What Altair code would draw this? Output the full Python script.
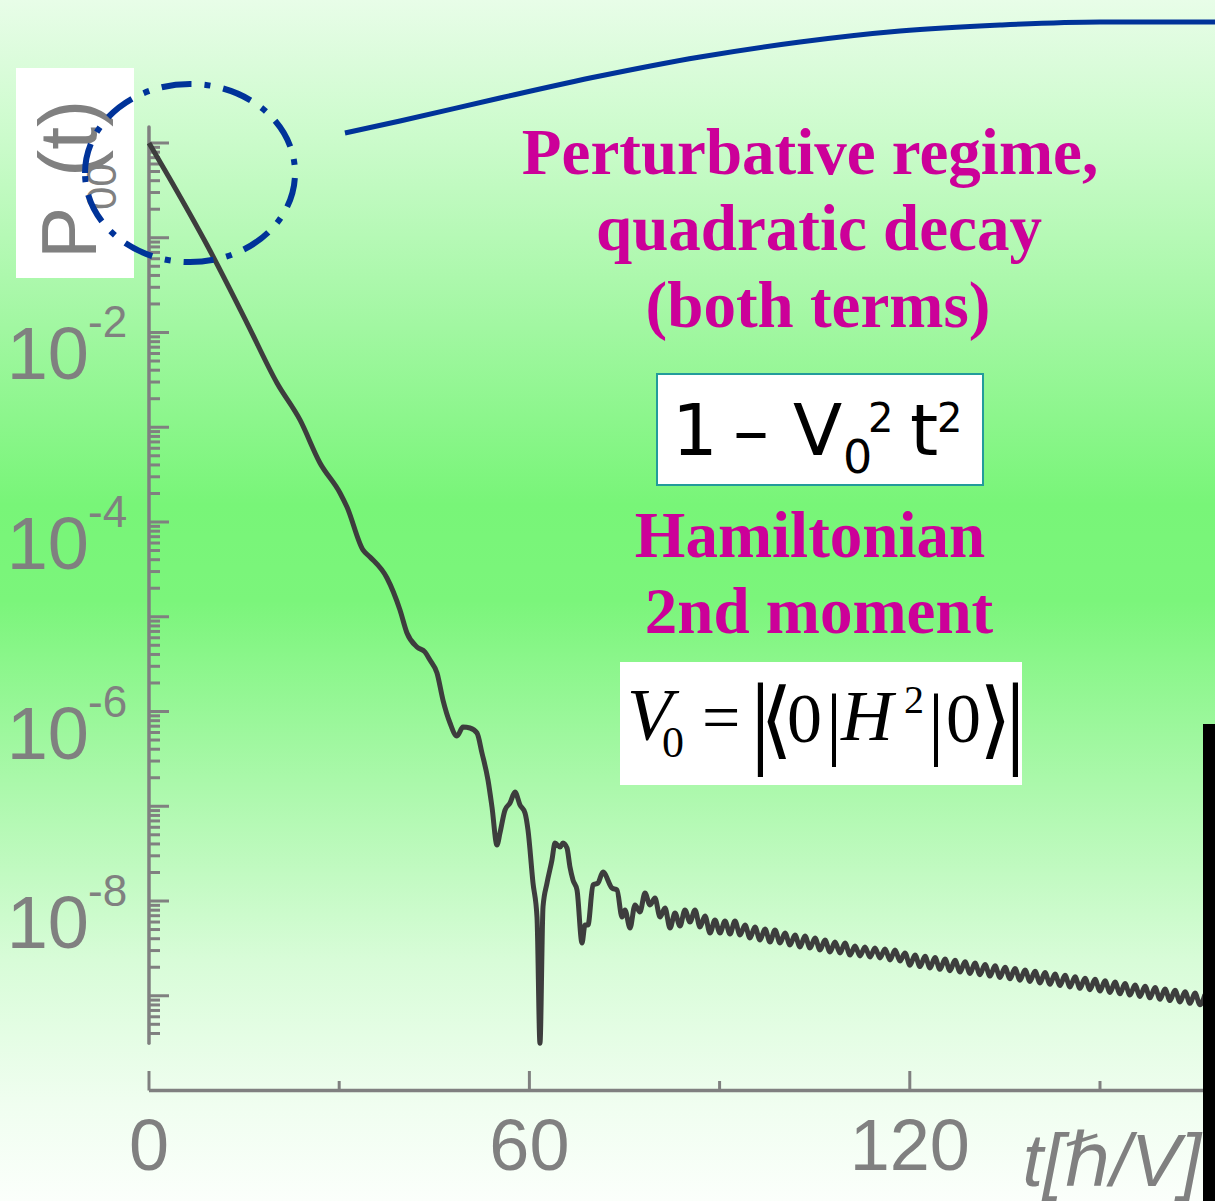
import altair as alt
import pandas as pd

W, H = 1215, 1201

# ---- survival probability P00(t): time in units of hbar/V, log10 of P00 ----
t_vals = [
    0.00, 3.31, 9.15, 15.46, 20.19, 23.82, 26.97, 30.13, 31.23, 33.75,
    34.86, 37.54, 39.59, 40.69, 42.27, 43.53, 44.32, 45.43, 46.37, 47.48,
    48.58, 49.53, 50.63, 51.74, 52.52, 53.47, 54.10, 54.89, 55.36, 56.15,
    56.94, 57.73, 58.52, 59.31, 59.78, 60.57, 61.20, 61.67, 62.15, 62.78,
    63.56, 64.04, 64.83, 65.30, 65.93, 66.40, 66.88, 67.51, 68.30, 68.77,
    69.24, 70.03, 70.82, 71.61, 73.03, 73.82, 74.61, 75.08, 75.87, 76.66,
    77.44, 78.23, 79.02, 79.81, 80.60, 81.39, 82.18, 82.97, 83.75, 84.54,
    85.33, 86.12, 86.91, 87.70, 88.49, 89.27, 90.06, 90.85, 91.64, 92.43,
    93.22, 94.01, 94.79, 95.58, 96.37, 97.16, 97.95, 98.74, 99.53, 100.32,
    101.10, 101.89, 102.68, 103.47, 104.26, 105.05, 105.84, 106.62, 107.41, 108.20,
    108.99, 109.78, 110.57, 111.36, 112.15, 112.93, 113.72, 114.51, 115.30, 116.09,
    116.88, 117.67, 118.45, 119.24, 120.03, 120.82, 121.61, 122.40, 123.19, 123.97,
    124.76, 125.55, 126.34, 127.13, 127.92, 128.71, 129.50, 130.28, 131.07, 131.86,
    132.65, 133.44, 134.23, 135.02, 135.80, 136.59, 137.38, 138.17, 138.96, 139.75,
    140.54, 141.32, 142.11, 142.90, 143.69, 144.48, 145.27, 146.06, 146.85, 147.63,
    148.42, 149.21, 150.00, 150.79, 151.58, 152.37, 153.15, 153.94, 154.73, 155.52,
    156.31, 157.10, 157.89, 158.68, 159.46, 160.25, 161.04, 161.83, 162.62, 163.41,
    164.20, 164.98, 165.77, 166.56,
]
log_p = [
    0.000, -0.380, -1.077, -1.900, -2.533, -2.923, -3.377, -3.694, -3.842, -4.295,
    -4.369, -4.591, -4.929, -5.171, -5.319, -5.372, -5.457, -5.594, -5.879, -6.121,
    -6.259, -6.164, -6.174, -6.227, -6.438, -6.723, -7.008, -7.409, -7.282, -7.040,
    -6.966, -6.850, -6.987, -7.071, -7.251, -7.810, -8.169, -9.500, -8.061, -7.810,
    -7.567, -7.388, -7.430, -7.388, -7.441, -7.641, -7.779, -7.884, -8.443, -8.253,
    -8.253, -7.831, -7.810, -7.694, -7.863, -7.884, -8.169, -8.095, -8.285, -8.042,
    -8.116, -7.916, -8.042, -7.968, -8.169, -8.074, -8.285, -8.127, -8.264, -8.095,
    -8.222, -8.095, -8.274, -8.158, -8.338, -8.201, -8.338, -8.211, -8.348, -8.211,
    -8.359, -8.253, -8.390, -8.274, -8.412, -8.295, -8.433, -8.306, -8.443, -8.338,
    -8.464, -8.359, -8.485, -8.369, -8.496, -8.390, -8.517, -8.412, -8.538, -8.433,
    -8.549, -8.443, -8.570, -8.475, -8.580, -8.485, -8.591, -8.496, -8.601, -8.506,
    -8.622, -8.517, -8.633, -8.549, -8.678, -8.569, -8.692, -8.583, -8.706, -8.597,
    -8.721, -8.612, -8.735, -8.626, -8.749, -8.641, -8.764, -8.655, -8.778, -8.669,
    -8.792, -8.684, -8.807, -8.698, -8.821, -8.712, -8.836, -8.727, -8.849, -8.741,
    -8.864, -8.755, -8.879, -8.770, -8.892, -8.784, -8.907, -8.799, -8.922, -8.814,
    -8.936, -8.827, -8.950, -8.842, -8.965, -8.856, -8.979, -8.871, -8.993, -8.886,
    -9.007, -8.899, -9.022, -8.914, -9.037, -8.929, -9.051, -8.942, -9.066, -8.957,
    -9.080, -8.971, -9.095, -8.986,
]

# ---- blue connector from the zoom ring towards the upper right ----
conn_t = [30.91, 39.59, 55.36, 71.14, 86.91, 102.68, 118.45, 134.23, 150.00, 168.14]
conn_lg = [0.106, 0.232, 0.475, 0.707, 0.908, 1.066, 1.182, 1.245, 1.277, 1.277]

# zoom ring around the short-time region
ring_t, ring_lg = 6.47, -0.317

# ---- axes ----
X_MAJOR = [0, 60, 120]
X_MINOR = [30, 90, 150]
X_LABELS = ["0", "60", "120"]
Y_DECADES = [0, -1, -2, -3, -4, -5, -6, -7, -8, -9]
Y_MANTISSAS = [2, 3, 4, 5, 6, 7, 8, 9]
Y_LABEL_EXP = [-2, -4, -6, -8]
Y_AXIS_TOP_LG, Y_AXIS_BOTTOM_LG = 0.169, -9.5
X_AXIS_LG = -10.0
X_AXIS_END = 168.14

GREY = "#808080"
MAGENTA = "#cc0099"
BLUE = "#003399"
CURVE = "#3d3d3d"

x_scale = alt.Scale(domain=[-23.50, 168.14], nice=False, zero=False)
y_scale = alt.Scale(type="log", domain=[10 ** -11.166, 10 ** 1.509], nice=False)


def X(f):
    return alt.X(f, type="quantitative", scale=x_scale, axis=None)


def Y(f):
    return alt.Y(f, type="quantitative", scale=y_scale, axis=None)


ONE = pd.DataFrame({"k": [0]})


def txt(s, x, y, size, color, font, weight="normal", style="normal",
        align="left", angle=0):
    return alt.Chart(ONE).mark_text(
        align=align, baseline="alphabetic", font=font, fontSize=size,
        fontWeight=weight, fontStyle=style, color=color, angle=angle,
    ).encode(x=alt.value(x), y=alt.value(y), text=alt.value(s))


def box(x0, x1, y0, y1, fill, stroke=None, sw=0):
    kw = dict(fill=fill)
    if stroke:
        kw.update(stroke=stroke, strokeWidth=sw)
    return alt.Chart(ONE).mark_rect(**kw).encode(
        x=alt.value(x0), x2=alt.value(x1), y=alt.value(y0), y2=alt.value(y1))


layers = []

# background wash
grad = alt.LinearGradient(
    gradient="linear", x1=0, x2=0, y1=0, y2=1,
    stops=[
        alt.GradientStop(offset=0.0, color="#e8fde8"),
        alt.GradientStop(offset=0.12, color="#cafbca"),
        alt.GradientStop(offset=0.27, color="#a2f7a2"),
        alt.GradientStop(offset=0.42, color="#78f578"),
        alt.GradientStop(offset=0.50, color="#7bf57b"),
        alt.GradientStop(offset=0.65, color="#aaf8aa"),
        alt.GradientStop(offset=0.80, color="#d8fcd8"),
        alt.GradientStop(offset=0.92, color="#f0fef0"),
        alt.GradientStop(offset=1.0, color="#fbfffb"),
    ],
)
layers.append(alt.Chart(ONE).mark_rect(fill=grad).encode(
    x=alt.value(0), x2=alt.value(W), y=alt.value(0), y2=alt.value(H)))

# white backing for the y title
layers.append(box(16, 134, 68, 278, "white"))

# y axis line and ticks
yaxis = pd.DataFrame({"t": [0], "P": [10 ** Y_AXIS_TOP_LG], "P2": [10 ** Y_AXIS_BOTTOM_LG]})
layers.append(alt.Chart(yaxis).mark_rule(color=GREY, strokeWidth=3.5, strokeCap="round").encode(
    x=X("t"), y=Y("P"), y2=alt.Y2("P2")))

ymaj = pd.DataFrame({"t": 0, "P": [10.0 ** d for d in Y_DECADES]})
layers.append(alt.Chart(ymaj).mark_rule(color=GREY, strokeWidth=3).encode(
    x=X("t"), x2=alt.value(169), y=Y("P")))

minor_vals = [m * 10.0 ** (d - 1) for d in Y_DECADES for m in Y_MANTISSAS]
minor_vals = sorted(v for v in minor_vals if v >= 10 ** Y_AXIS_BOTTOM_LG)
ymin = pd.DataFrame({"t": 0, "P": minor_vals})
layers.append(alt.Chart(ymin).mark_rule(color=GREY, strokeWidth=3).encode(
    x=X("t"), x2=alt.value(160), y=Y("P")))

# x axis line and ticks
xaxis = pd.DataFrame({"t": [0], "t2": [X_AXIS_END], "P": [10 ** X_AXIS_LG]})
layers.append(alt.Chart(xaxis).mark_rule(color=GREY, strokeWidth=3.5).encode(
    x=X("t"), x2=alt.X2("t2"), y=Y("P")))
xmaj = pd.DataFrame({"t": X_MAJOR, "P": 10 ** X_AXIS_LG})
layers.append(alt.Chart(xmaj).mark_rule(color=GREY, strokeWidth=3).encode(
    x=X("t"), y=Y("P"), y2=alt.value(1071)))
xmin = pd.DataFrame({"t": X_MINOR, "P": 10 ** X_AXIS_LG})
layers.append(alt.Chart(xmin).mark_rule(color=GREY, strokeWidth=3).encode(
    x=X("t"), y=Y("P"), y2=alt.value(1081)))

# x tick labels
xl = pd.DataFrame({"t": X_MAJOR, "lab": X_LABELS, "P": 10 ** X_AXIS_LG})
layers.append(alt.Chart(xl).mark_text(
    align="center", baseline="alphabetic", font="Liberation Sans", fontSize=72,
    color=GREY, dy=79).encode(x=X("t"), y=Y("P"), text="lab:N"))

# y tick labels: 10 with a raised exponent
yl = pd.DataFrame({"P": [10.0 ** e for e in Y_LABEL_EXP],
                   "base": "10", "exp": [f"-{abs(e)}" for e in Y_LABEL_EXP]})
layers.append(alt.Chart(yl).mark_text(
    align="right", baseline="alphabetic", font="Liberation Sans", fontSize=74,
    color=GREY, dy=47).encode(x=alt.value(89), y=Y("P"), text="base:N"))
layers.append(alt.Chart(yl).mark_text(
    align="left", baseline="alphabetic", font="Liberation Sans", fontSize=44,
    color=GREY, dy=5).encode(x=alt.value(88), y=Y("P"), text="exp:N"))

# y title P00(t), rotated
layers.append(txt("P", 96, 259, 78, GREY, "Liberation Sans", angle=270))
layers.append(txt("00", 116, 210, 42, GREY, "Liberation Sans", angle=270))
layers.append(txt("(t)", 96, 177, 82, GREY, "Liberation Sans", angle=270))

# x title
layers.append(txt("t[\u210f/V]", 1201, 1186, 74, GREY, "Liberation Sans, DejaVu Sans",
                  style="italic", align="right"))

# the decay curve
curve = pd.DataFrame({"t": t_vals, "P": [10.0 ** v for v in log_p]})
layers.append(alt.Chart(curve).mark_line(
    color=CURVE, strokeWidth=5, strokeJoin="round", interpolate="monotone").encode(
    x=X("t"), y=Y("P")))

# connector and dash-dot ring
conn = pd.DataFrame({"t": conn_t, "P": [10.0 ** v for v in conn_lg]})
layers.append(alt.Chart(conn).mark_line(
    color=BLUE, strokeWidth=5, interpolate="monotone").encode(x=X("t"), y=Y("P")))

ELLIPSE = ("M -1 0 C -1 -0.468 -0.552 -0.848 0 -0.848 C 0.552 -0.848 1 -0.468 1 0 "
           "C 1 0.468 0.552 0.848 0 0.848 C -0.552 0.848 -1 0.468 -1 0 Z")
ring = pd.DataFrame({"t": [ring_t], "P": [10.0 ** ring_lg]})
layers.append(alt.Chart(ring).mark_point(
    shape=ELLIPSE, size=210 * 210, filled=False, stroke=BLUE, strokeWidth=6,
    strokeDash=[30, 13, 6, 13], opacity=1).encode(x=X("t"), y=Y("P")))

# black bar at right edge
layers.append(box(1203, W, 724, H, "black"))

# annotations
SERIF_B = "Liberation Serif"
layers.append(txt("Perturbative regime,", 810, 174, 65, MAGENTA, SERIF_B, weight="bold", align="center"))
layers.append(txt("quadratic decay", 819, 250, 65, MAGENTA, SERIF_B, weight="bold", align="center"))
layers.append(txt("(both terms)", 818, 327, 65, MAGENTA, SERIF_B, weight="bold", align="center"))
layers.append(txt("Hamiltonian", 810, 557, 65, MAGENTA, SERIF_B, weight="bold", align="center"))
layers.append(txt("2nd moment", 819, 633, 65, MAGENTA, SERIF_B, weight="bold", align="center"))

# formula box: 1 - V0^2 t^2
layers.append(box(657, 983, 374, 485, "white", stroke="#239b9b", sw=2))
SANS = "DejaVu Sans"
layers.append(txt("1", 672, 455, 72, "black", SANS))
layers.append(txt("\u2013", 733, 455, 72, "black", SANS))
layers.append(txt("V", 793, 455, 72, "black", SANS))
layers.append(txt("0", 843, 473, 46, "black", SANS))
layers.append(txt("2", 868, 432, 40, "black", SANS))
layers.append(txt("t", 910, 455, 72, "black", SANS))
layers.append(txt("2", 937, 432, 40, "black", SANS))

# formula box: V0 = |<0|H^2|0>|
layers.append(box(620, 1022, 662, 785, "white"))
SERIF = "Liberation Serif, DejaVu Serif, DejaVu Sans"
layers.append(txt("V", 627, 740, 74, "black", SERIF, style="italic"))
layers.append(txt("0", 662, 757, 44, "black", SERIF))
layers.append(txt("=", 702, 740, 68, "black", SERIF))
layers.append(txt("|", 750, 755, 104, "black", SERIF))
layers.append(txt("\u27e8", 760, 748, 84, "black", SERIF))
layers.append(txt("0", 787, 742, 70, "black", SERIF))
layers.append(txt("|", 826, 750, 80, "black", SERIF))
layers.append(txt("H", 841, 740, 72, "black", SERIF, style="italic"))
layers.append(txt("2", 904, 713, 40, "black", SERIF))
layers.append(txt("|", 928, 750, 80, "black", SERIF))
layers.append(txt("0", 946, 742, 70, "black", SERIF))
layers.append(txt("\u27e9", 979, 748, 84, "black", SERIF))
layers.append(txt("|", 1005, 755, 104, "black", SERIF))

chart = alt.layer(*layers).properties(
    width=W, height=H, padding=0,
    autosize=alt.AutoSizeParams(type="none"),
    background="white",
).configure_view(stroke=None)

chart.save("out.html", embed_options={"renderer": "svg", "actions": False})
